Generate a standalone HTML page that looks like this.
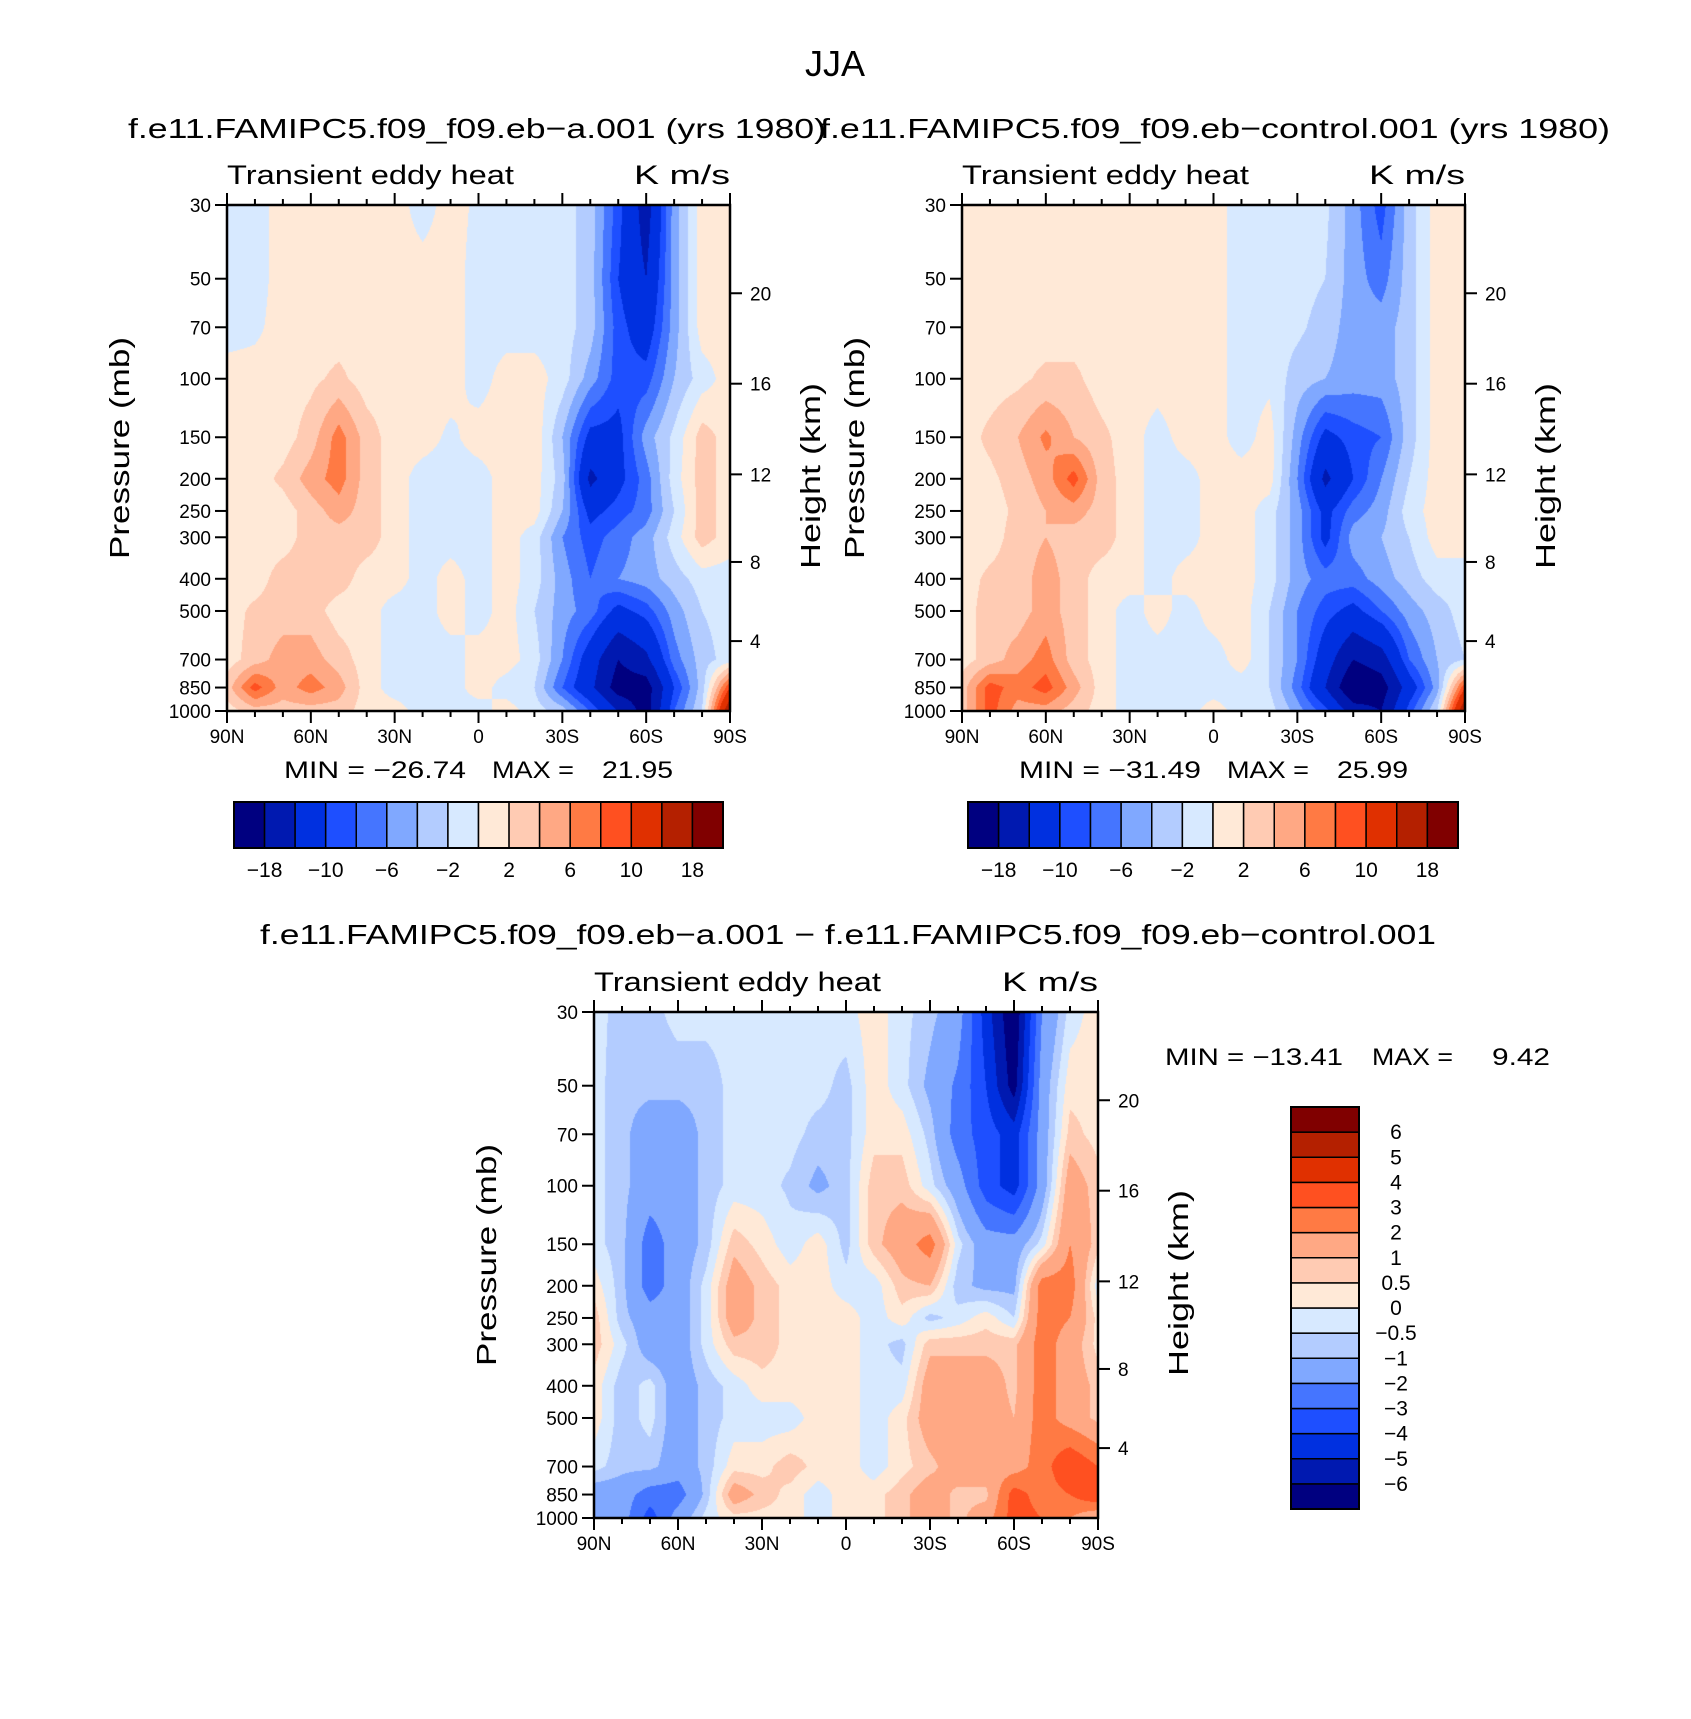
<!DOCTYPE html>
<html><head><meta charset="utf-8">
<style>
html,body{margin:0;padding:0;background:#fff;}
#wrap{position:relative;width:1691px;height:1719px;overflow:hidden;background:#fff;}
canvas{position:absolute;}
svg{position:absolute;left:0;top:0;}
text{font-family:"Liberation Sans",sans-serif;fill:#000;}
</style></head>
<body>
<div id="wrap">
<canvas id="cA"></canvas>
<canvas id="cB"></canvas>
<canvas id="cC"></canvas>
<svg id="ov" width="1691" height="1719"></svg>
</div>
<script>
// ---- data ----
const latLabels = ["90N","60N","30N","0","30S","60S","90S"];
const lats = [90,80,70,60,50,40,30,20,10,0,-10,-20,-30,-40,-50,-60,-70,-80,-90];
const levels = [30,50,70,100,150,200,250,300,400,500,700,850,1000];
const pTicks = [30,50,70,100,150,200,250,300,400,500,700,850,1000];
const kmTicks = [4,8,12,16,20];
const kmPress = [616,356,194,103.5,55.3];
const topBounds = [-18,-14,-10,-8,-6,-4,-2,0,2,4,6,8,10,14,18];
const topLabels = ["−18","−10","−6","−2","2","6","10","18"];
const diffBounds = [-6,-5,-4,-3,-2,-1,-0.5,0,0.5,1,2,3,4,5,6];
const diffLabels = ["−6","−5","−4","−3","−2","−1","−0.5","0","0.5","1","2","3","4","5","6"];
const colors = ["#000080","#0019b0","#0030e0","#1e4fff","#4575ff","#80a8ff","#b3ccff","#d7e9ff","#ffe9d7","#ffcbb3","#ffa884","#ff7a44","#ff5020","#e03000","#b42000","#800000"];
const valsA = [
[-1,-1,1,1,1,1,1,-1,1,-0.5,-1,-1,-1,-3,-9,-16,-5,1,1],
[-1,-1,1,1,1,1,1,1,1,-1,-1,-1,-1,-3,-10,-14,-5,1,1],
[-1,-0.5,1,1,1,1,1,1,1,-1,-1,-1,-1,-3,-9,-12,-5,1,1],
[1,1,1,1.5,2.5,1,1,1,1,-1,1,1,-1,-5,-9,-9,-4,-1,1],
[1,1,1,3,7,3,1,1,-0.5,1,1,1.5,-4,-11,-11,-5,-1.5,3,1],
[1,1,2.5,5,7,3,1,-1,-1,-1,1,1,-3,-15,-11,-7,-1,3,1],
[1,1,1,3,5,3,1,-1,-1,-1,1,1,-4,-11,-9,-7,-2,3,1],
[1,1,1,3,3,3,1,-1,-1,-1,1,-1,-6,-9,-7,-5,-1,3,1],
[1,1,3,3,3,1,1,-1,1,-1,1,-1,-5,-8,-6,-5,-3,-1,-1],
[1,2.5,3,3,1,1,-1,-1,1,-1,1,-2,-5,-7,-11,-9,-5,-2,-1],
[1,3,5,5,3,1,-1,-1,-1,1,1,-1,-6,-12,-18,-15,-7,-3,-1],
[3,9,5,7,5,1,-1,-1,-1,1,-1,-2,-8,-13,-20,-20,-10,-3,10],
[1,3,3,3,3,1,1,-1,-1,-1,1,-1,-3,-8,-14,-20,-8,-2,18]];
const valsB = [
[1,1,1,1,1,1,1,1,1,1,-1,-1,-1,-1.5,-5,-9,-3,1,1],
[1,1,1,1,1,1,1,1,1,1,-1,-1,-1,-2,-5,-7,-3,1,1],
[1,1,1,1,1,1,1,1,1,1,-1,-1,-1.5,-3,-5,-5,-3,1,1],
[1,1,1.5,2.5,2.5,1,1,1,1.5,1,-1,-0.5,-3,-4,-5,-5,-3,1,1],
[1,2.5,4,6.5,4,2.5,1,-1,1,1,-1,1,-5,-11,-9,-8,-3,1,1],
[1,1.5,3,5,9,3,1,-1,-1,1,1,1,-6,-15,-10,-6,-2,1,1],
[1,1,2.5,4,5,3,1,-1,-1,1,1,-1,-5,-11,-7,-5,-1,1,1],
[1,1,3,4,3,3,1,-1,-1,1,1,-1,-5,-11,-5,-4,-2,1,1],
[1,2.5,3,5,3,1,1,-1,1,1,1,-1,-5,-7,-7,-5,-3,-1,-1],
[1,3,3,5,3,1,-1,1,-1,1,1,-2,-6,-9,-11,-8,-5,-3,-1],
[1,3,5,7,3,1,-1,-1,-1,-1,1,-2,-6,-12,-18,-16,-8,-4,-2],
[3,9,7,9,5,1,-1,-1,-1,-1,-1,-2,-7,-14,-22,-20,-12,-5,10],
[3,9,5,5,3,1,-1,-1,-1,1,-1,-1,-5,-9,-16,-18,-9,-2,18]];
const valsC = [
[-0.3,-0.7,-0.7,-0.3,-0.3,-0.3,-0.3,-0.3,-0.3,-0.2,0.3,-0.3,-0.8,-1.5,-4.5,-7,-2,-0.3,0.3],
[-0.3,-0.8,-0.8,-0.8,-0.8,-0.3,-0.3,-0.3,-0.3,-0.7,0.3,-0.3,-1.2,-2.2,-4,-6.5,-1.5,0.3,0.3],
[-0.3,-0.8,-1.5,-1.5,-0.8,-0.3,-0.3,-0.3,-0.7,-0.7,0.3,0.3,-0.7,-2.5,-3.5,-4.5,-1.5,0.7,0.3],
[-0.3,-0.8,-1.5,-1.5,-0.8,-0.3,-0.3,-0.6,-1.2,-0.7,0.8,0.8,-0.3,-1.5,-3.5,-4.5,-1.5,1.5,0.7],
[-0.3,-0.8,-2.5,-1.5,-0.8,0.8,0.3,-0.3,0.3,-0.7,0.8,1.5,2.5,-0.3,-1.5,-1.5,-0.3,2,0.7],
[0.3,-0.8,-2.5,-1.5,-0.3,1.5,0.8,0.3,0.3,-0.3,-0.3,0.8,1,-0.8,-1.2,-1.2,2.5,2.5,-0.3],
[0.8,-0.8,-1.5,-1.5,-0.3,1.5,0.8,0.3,0.3,0.3,-0.3,0.3,-0.7,-0.3,0.3,-0.5,2.5,2,0.3],
[0.8,-0.3,-1.5,-1.5,-0.3,0.8,0.8,0.3,0.3,0.3,-0.3,-0.7,0.8,0.8,0.8,0.8,2.5,1.5,0.3],
[0.3,-0.8,-0.3,-1.5,-0.8,-0.3,0.3,0.3,0.3,0.3,-0.3,-0.3,1.5,1.5,1.5,0.8,2.5,1.5,0.8],
[0.3,-0.8,-0.3,-1.5,-0.8,-0.3,-0.3,-0.3,0.3,0.3,-0.3,0.3,1.5,1.5,1.5,1,2.5,1.5,0.8],
[-0.3,-0.8,-0.8,-1.5,-0.8,0.3,0.3,0.8,0.3,0.3,-0.3,0.3,0.8,1.5,1.5,1.5,2.5,4,3],
[-1.5,-1.5,-2.5,-2.5,-0.8,1.5,0.8,0.3,-0.3,0.3,0.3,0.8,1.5,0.8,0.8,3.5,2.5,3,4],
[-1.5,-1.5,-3.5,-1.5,-0.3,0.3,0.3,0.3,-0.3,0.3,0.3,0.8,1.5,0.8,1.5,3.5,3,2,1]];

// ---- helpers ----
const NS = "http://www.w3.org/2000/svg";
const ov = document.getElementById('ov');
function el(tag, attrs, parent, txt){
  const e = document.createElementNS(NS, tag);
  for (const k in attrs) e.setAttribute(k, attrs[k]);
  if (txt !== undefined) e.textContent = txt;
  (parent || ov).appendChild(e);
  return e;
}
function classify(v, bounds){ let i=0; while(i<bounds.length && v>=bounds[i]) i++; return i; }
const L30 = Math.log(30), L1000 = Math.log(1000);
function yFrac(p){ return (Math.log(p)-L30)/(L1000-L30); }
function xFrac(lat){ return (90-lat)/180; }

function drawField(id, vals, bounds, x0, y0, w, h){
  const c = document.getElementById(id);
  c.width = w; c.height = h;
  c.style.left = x0+'px'; c.style.top = y0+'px';
  const ctx = c.getContext('2d');
  const img = ctx.createImageData(w, h);
  const rgb = colors.map(s => [parseInt(s.substr(1,2),16),parseInt(s.substr(3,2),16),parseInt(s.substr(5,2),16)]);
  const lvF = levels.map(yFrac);
  for (let py=0; py<h; py++){
    const f = (py+0.5)/h;
    let r = 0; while (r < levels.length-2 && lvF[r+1] < f) r++;
    let ty = (f - lvF[r])/(lvF[r+1]-lvF[r]); ty = Math.max(0,Math.min(1,ty));
    for (let px=0; px<w; px++){
      const fx = (px+0.5)/w*(lats.length-1);
      let ci = Math.min(lats.length-2, Math.floor(fx));
      const tx = fx-ci;
      const v = (1-ty)*((1-tx)*vals[r][ci]+tx*vals[r][ci+1]) + ty*((1-tx)*vals[r+1][ci]+tx*vals[r+1][ci+1]);
      const k = rgb[classify(v, bounds)];
      const o = (py*w+px)*4;
      img.data[o]=k[0]; img.data[o+1]=k[1]; img.data[o+2]=k[2]; img.data[o+3]=255;
    }
  }
  ctx.putImageData(img,0,0);
}

function drawAxes(name, x0, y0, w, h){
  const g = el('g', {}, ov);
  
  
  for (let lat=90; lat>=-90; lat-=10){
    const x = x0 + xFrac(lat)*w;
    const major = (lat % 30 === 0);
    const L = major ? 12 : 6;
    el('line',{x1:x,y1:y0,x2:x,y2:y0-L,stroke:'#000','stroke-width':2},g);
    el('line',{x1:x,y1:y0+h,x2:x,y2:y0+h+L,stroke:'#000','stroke-width':2},g);
  }
  latLabels.forEach((lb,i)=>{
    const x = x0 + i/6*w;
    const t = el('text',{x:x,y:y0+h+32,'font-size':19,'text-anchor':'middle'},g,lb);
    
    
  });
  pTicks.forEach(p=>{
    const y = y0 + yFrac(p)*h;
    el('line',{x1:x0,y1:y,x2:x0-12,y2:y,stroke:'#000','stroke-width':2},g);
    const t = el('text',{x:x0-16,y:y+7,'font-size':19,'text-anchor':'end'},g,String(p));
    
    
  });
  kmTicks.forEach((km,i)=>{
    const y = y0 + yFrac(kmPress[i])*h;
    el('line',{x1:x0+w,y1:y,x2:x0+w+12,y2:y,stroke:'#000','stroke-width':2},g);
    const t = el('text',{x:x0+w+20,y:y+7,'font-size':19},g,String(km));
    
    
  });
  el('rect',{x:x0,y:y0,width:w,height:h,fill:'none',stroke:'#000','stroke-width':2.5},g);
  const cx = x0-98, cy = y0+h/2 - 10;
  const pt = el('text',{x:cx,y:cy,'font-size':28,'text-anchor':'middle',textLength:222,lengthAdjust:'spacingAndGlyphs',transform:`rotate(-90 ${cx} ${cy})`},g,'Pressure (mb)');
  
  
  const hx = x0+w+90, hy = y0+h/2+18;
  const ht = el('text',{x:hx,y:hy,'font-size':28,'text-anchor':'middle',textLength:186,lengthAdjust:'spacingAndGlyphs',transform:`rotate(-90 ${hx} ${hy})`},g,'Height (km)');
  
  
  const lt = el('text',{x:x0,y:y0-21,'font-size':27,textLength:287,lengthAdjust:'spacingAndGlyphs'},g,'Transient eddy heat');
  
  
  const rt = el('text',{x:x0+w-96,y:y0-21,'font-size':27,textLength:96,lengthAdjust:'spacingAndGlyphs'},g,'K m/s');
  
  
}

function hColorbar(name, x0, y0, w, h){
  const g = el('g',{},ov);
  
  
  const bw = w/colors.length;
  colors.forEach((c,i)=>{
    const r = el('rect',{x:x0+i*bw,y:y0,width:bw,height:h,fill:c,stroke:'#000','stroke-width':1.5},g);
    
    
  });
  el('rect',{x:x0,y:y0,width:w,height:h,fill:'none',stroke:'#000','stroke-width':2},g);
  topLabels.forEach((lb,i)=>{
    const x = x0 + (2*i+1)*bw;
    const t = el('text',{x:x,y:y0+h+29,'font-size':21,'text-anchor':'middle'},g,lb);
    
    
  });
}

function vColorbar(name, x0, y0, w, h){
  const g = el('g',{},ov);
  
  
  const bh = h/colors.length;
  colors.forEach((c,i)=>{
    const r = el('rect',{x:x0,y:y0+h-(i+1)*bh,width:w,height:bh,fill:c,stroke:'#000','stroke-width':1.5},g);
    
    
  });
  el('rect',{x:x0,y:y0,width:w,height:h,fill:'none',stroke:'#000','stroke-width':2},g);
  diffLabels.forEach((lb,i)=>{
    const y = y0 + h - (i+1)*bh;
    const t = el('text',{x:x0+w+37,y:y+7,'font-size':21,'text-anchor':'middle'},g,lb);
    
    
  });
}

// ---- layout ----
const PA = {x:227, y:205, w:503, h:506};
const PB = {x:962, y:205, w:503, h:506};
const PC = {x:594, y:1012, w:504, h:506};
drawField('cA', valsA, topBounds, PA.x, PA.y, PA.w, PA.h);
drawField('cB', valsB, topBounds, PB.x, PB.y, PB.w, PB.h);
drawField('cC', valsC, diffBounds, PC.x, PC.y, PC.w, PC.h);
drawAxes('plot-a', PA.x, PA.y, PA.w, PA.h);
drawAxes('plot-control', PB.x, PB.y, PB.w, PB.h);
drawAxes('plot-difference', PC.x, PC.y, PC.w, PC.h);

function txt(name, attrs, s){
  const t = el('text', attrs, ov, s);
  
  
  return t;
}
txt('main-title',{x:835,y:76,'font-size':36,'text-anchor':'middle'},'JJA');
txt('title-a',{x:128,y:138,'font-size':28,textLength:698,lengthAdjust:'spacingAndGlyphs'},'f.e11.FAMIPC5.f09_f09.eb−a.001 (yrs 1980)');
txt('title-control',{x:820,y:138,'font-size':28,textLength:790,lengthAdjust:'spacingAndGlyphs'},'f.e11.FAMIPC5.f09_f09.eb−control.001 (yrs 1980)');
txt('title-difference',{x:260,y:944,'font-size':28,textLength:1176,lengthAdjust:'spacingAndGlyphs'},'f.e11.FAMIPC5.f09_f09.eb−a.001 − f.e11.FAMIPC5.f09_f09.eb−control.001');
function mm(name, y, x1, w1, s1, x2, w2, s2, x3, w3, s3){
  txt(name+'-min',{x:x1,y:y,'font-size':24,textLength:w1,lengthAdjust:'spacingAndGlyphs'},s1);
  txt(name+'-max',{x:x2,y:y,'font-size':24,textLength:w2,lengthAdjust:'spacingAndGlyphs'},s2);
  txt(name+'-value',{x:x3,y:y,'font-size':24,textLength:w3,lengthAdjust:'spacingAndGlyphs'},s3);
}
mm('minmax-a', 778, 284, 182, 'MIN = −26.74', 492, 82, 'MAX =', 602, 71, '21.95');
mm('minmax-control', 778, 1019, 182, 'MIN = −31.49', 1227, 82, 'MAX =', 1337, 71, '25.99');
mm('minmax-difference', 1065, 1165, 178, 'MIN = −13.41', 1372, 81, 'MAX =', 1492, 58, '9.42');
hColorbar('colorbar-a', 234, 802, 489, 46);
hColorbar('colorbar-control', 968, 802, 490, 46);
vColorbar('colorbar-difference', 1291, 1107, 68, 402);
</script>
</body></html>
